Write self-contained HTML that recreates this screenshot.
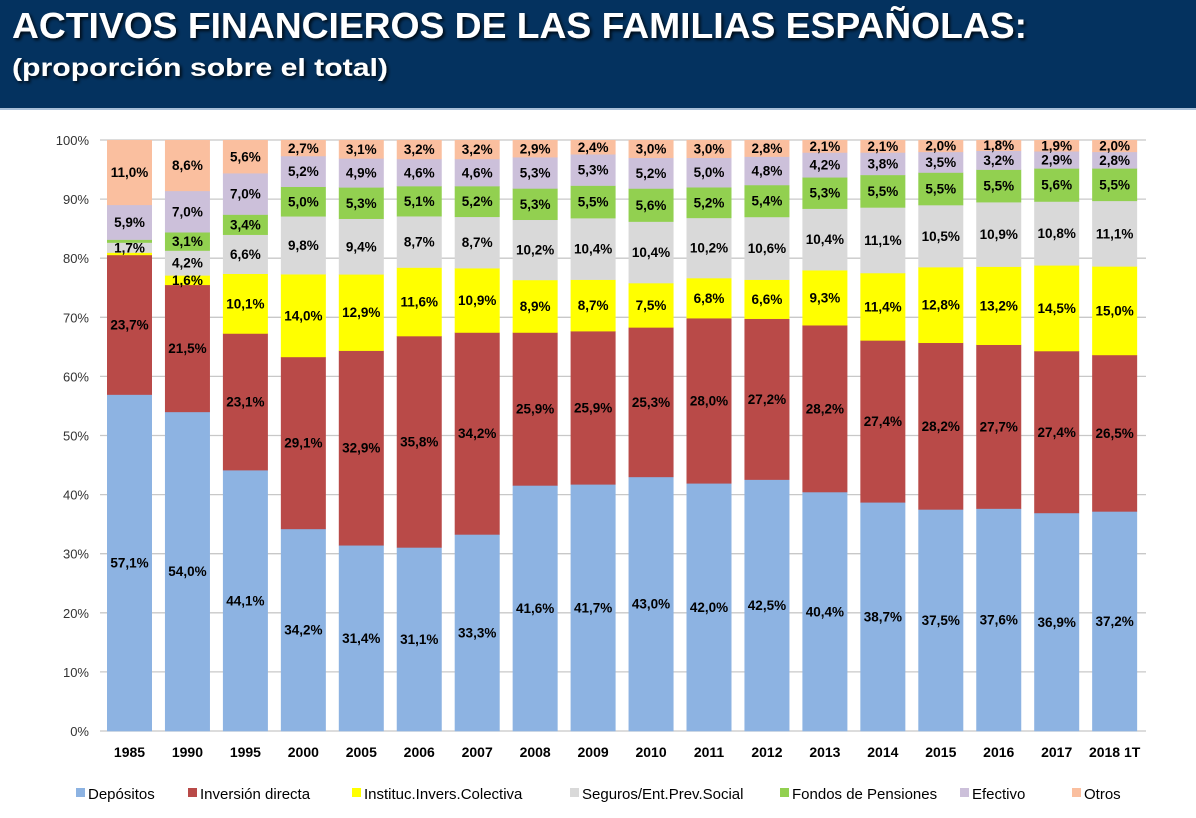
<!DOCTYPE html>
<html><head><meta charset="utf-8"><style>
html,body{margin:0;padding:0;background:#fff;}
svg{display:block;font-family:"Liberation Sans",sans-serif;}
</style></head><body>
<svg id="s" width="1196" height="818" xmlns="http://www.w3.org/2000/svg">
<defs><filter id="sh" x="-5%" y="-20%" width="110%" height="140%"><feGaussianBlur in="SourceAlpha" stdDeviation="1.5"/><feOffset dx="2" dy="2"/><feComponentTransfer><feFuncA type="linear" slope="0.8"/></feComponentTransfer><feMerge><feMergeNode/><feMergeNode in="SourceGraphic"/></feMerge></filter></defs>
<rect x="0" y="0" width="1196" height="108" fill="#04325f"/>
<rect x="0" y="108" width="1196" height="2" fill="#a9bfd8"/>
<text x="12" y="38" font-size="36" font-weight="bold" fill="#fff" textLength="1015" lengthAdjust="spacingAndGlyphs" filter="url(#sh)">ACTIVOS FINANCIEROS DE LAS FAMILIAS ESPAÑOLAS:</text>
<text x="12" y="76" font-size="25" font-weight="bold" fill="#fff" textLength="376" lengthAdjust="spacingAndGlyphs" filter="url(#sh)">(proporción sobre el total)</text>
<g id="g"></g>
</svg>
<script>
var d=[["1985",[57.1,23.7,0.4,1.7,0.5,5.9,11.0]],["1990",[54.0,21.5,1.6,4.2,3.1,7.0,8.6]],["1995",[44.1,23.1,10.1,6.6,3.4,7.0,5.6]],["2000",[34.2,29.1,14.0,9.8,5.0,5.2,2.7]],["2005",[31.4,32.9,12.9,9.4,5.3,4.9,3.1]],["2006",[31.1,35.8,11.6,8.7,5.1,4.6,3.2]],["2007",[33.3,34.2,10.9,8.7,5.2,4.6,3.2]],["2008",[41.6,25.9,8.9,10.2,5.3,5.3,2.9]],["2009",[41.7,25.9,8.7,10.4,5.5,5.3,2.4]],["2010",[43.0,25.3,7.5,10.4,5.6,5.2,3.0]],["2011",[42.0,28.0,6.8,10.2,5.2,5.0,3.0]],["2012",[42.5,27.2,6.6,10.6,5.4,4.8,2.8]],["2013",[40.4,28.2,9.3,10.4,5.3,4.2,2.1]],["2014",[38.7,27.4,11.4,11.1,5.5,3.8,2.1]],["2015",[37.5,28.2,12.8,10.5,5.5,3.5,2.0]],["2016",[37.6,27.7,13.2,10.9,5.5,3.2,1.8]],["2017",[36.9,27.4,14.5,10.8,5.6,2.9,1.9]],["2018 1T",[37.2,26.5,15.0,11.1,5.5,2.8,2.0]]];
var col=["#8db3e2","#b94a48","#ffff00","#d9d9d9","#92d050","#ccc0da","#fabf9f"];
var names=["Depósitos","Inversión directa","Instituc.Invers.Colectiva","Seguros/Ent.Prev.Social","Fondos de Pensiones","Efectivo","Otros"];
var lx=[76,188,352,570,780,960,1072];
var y0=731,y1=140,H=y0-y1,s="";
for(var i=0;i<=10;i++){var y=y0-H*i/10;s+='<line x1="100" x2="1146" y1="'+y+'" y2="'+y+'" stroke="#c8c8c8" stroke-width="1.3"/>';
s+='<text x="89" y="'+(y+5)+'" font-size="13" text-anchor="end" fill="#333">'+(i*10)+'%</text>';}
var lab="";
d.forEach(function(b,k){var x=107+k*57.95,w=45,v=b[1],t=v.reduce(function(a,c){return a+c},0),cum=0;
v.forEach(function(val,j){var h=val/t*H,yt=y0-(cum+val)/t*H;s+='<rect x="'+x+'" y="'+yt+'" width="'+w+'" height="'+(h+0.3)+'" fill="'+col[j]+'"/>';
if(val>=1.5){lab+='<text x="'+(x+w/2)+'" y="'+(yt+h/2+4.8)+'" font-size="13.5" font-weight="bold" text-anchor="middle" fill="#000">'+val.toFixed(1).replace(".",",")+'%</text>';}
cum+=val;});
s+='<text x="'+(x+w/2)+'" y="757" font-size="14" font-weight="bold" text-anchor="middle" fill="#000">'+b[0]+'</text>';});
s+=lab;
names.forEach(function(n,j){s+='<rect x="'+lx[j]+'" y="788" width="9" height="9" fill="'+col[j]+'"/><text x="'+(lx[j]+12)+'" y="799" font-size="15" fill="#000">'+n+'</text>';});
document.getElementById("g").innerHTML=s;
</script>
</body></html>
